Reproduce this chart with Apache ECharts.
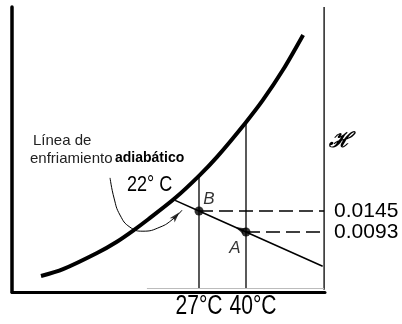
<!DOCTYPE html>
<html>
<head>
<meta charset="utf-8">
<script src="https://cdn.jsdelivr.net/npm/echarts@6/dist/echarts.min.js"></script>
<style>
  html, body { margin: 0; padding: 0; background: #fff; }
  #chart { width: 402px; height: 324px; }
</style>
</head>
<body>
<div id="chart"></div>
<script>
// saturation curve (dry bulb temperature, humidity)
const satTemp = [-16.7, -10.6, -1.2, 4.3, 8.7, 12.9, 20.4, 27, 32.0, 40, 44.7, 50.2, 55.8];
const satHum = [-0.0016, 0.0001, 0.0041, 0.0069, 0.0096, 0.0124, 0.0177, 0.0232, 0.0279, 0.0365, 0.0420, 0.0494, 0.0581];

// adiabatic cooling line
const coolTemp = [20.4, 27, 40, 61.2];
const coolHum = [0.01714, 0.0145, 0.0093, 0.00082];

// states A and B
const pointNames = ['B', 'A'];
const pointTemp = [27, 40];
const pointHum = [0.0145, 0.0093];
const humLabels = ['0.0145', '0.0093'];

// dry bulb verticals
const tempLabels = ['27°C', '40°C'];
const dryTemp = [27, 40];
const dryTop = [0.0232, 0.0365];

// frame
const baseHum = -0.0047;
const edgeTemp = 61.6;
const edgeTop = 0.065;
const baseStart = 12.6;

// leader from the note to the cooling line
const leaderTemp = [2.4, 3.5, 5.15, 7.9, 11.5, 16.2, 19.8, 22.3];
const leaderHum = [0.0227, 0.0177, 0.0135, 0.0105, 0.0095, 0.0105, 0.0125, 0.0147];

// arrow heads
const arrowTemp = [36.96, 21.6];
const arrowHum = [0.01052, 0.0142];

const X_MIN = -24.72, X_MAX = 61.85, Y_MIN = -0.00556, Y_MAX = 0.06502;
const FONT = "'Liberation Sans', Arial, sans-serif";

const chart = echarts.init(document.getElementById('chart'), null, { renderer: 'canvas' });

function seg(xs, ys) {
  return xs.map(function (x, i) { return [x, ys[i]]; });
}

function plainLine(data, width, extra) {
  return Object.assign({
    type: 'line',
    data: data,
    showSymbol: false,
    clip: false,
    silent: true,
    lineStyle: { color: '#000', width: width }
  }, extra || {});
}

const series = [];

// saturation curve
series.push(plainLine(seg(satTemp, satHum), 4, { smooth: 0.3 }));

// verticals
dryTemp.forEach(function (t, i) {
  series.push(plainLine([[t, baseHum], [t, dryTop[i]]], 1.3));
});

// right edge and faint base
series.push(plainLine([[edgeTemp, baseHum - 0.0003], [edgeTemp, edgeTop]], 1.3));
series.push(plainLine([[baseStart, baseHum], [edgeTemp, baseHum]], 1, {
  lineStyle: { color: '#bbb', width: 1 }
}));

// dashed humidity lines with their values
pointTemp.forEach(function (t, i) {
  series.push(plainLine([[t, pointHum[i]], [edgeTemp, pointHum[i]]], 1.3, {
    lineStyle: { color: '#000', width: 1.3, type: [14, 6] },
    endLabel: {
      show: true,
      formatter: humLabels[i],
      distance: 10,
      color: '#000',
      fontSize: 21,
      fontFamily: FONT
    }
  }));
});

// adiabatic cooling line
series.push(plainLine(seg(coolTemp, coolHum), 1.5));

// curved leader
series.push(plainLine(seg(leaderTemp, leaderHum), 1, { smooth: 0.5 }));

// arrow heads
const arrowRot = [66, -42];
series.push({
  type: 'scatter',
  silent: true,
  clip: false,
  symbol: 'arrow',
  symbolSize: [5, 11],
  itemStyle: { color: '#000' },
  data: seg(arrowTemp, arrowHum).map(function (p, i) {
    return { value: p, symbolRotate: arrowRot[i] };
  })
});

// points A and B
const nameOffsets = [[10, -12], [-11, 16]];
series.push({
  type: 'scatter',
  silent: true,
  clip: false,
  symbol: 'circle',
  symbolSize: 9,
  itemStyle: { color: '#000' },
  data: pointNames.map(function (n, i) {
    return {
      value: [pointTemp[i], pointHum[i]],
      name: n,
      label: {
        show: true,
        position: 'inside',
        offset: nameOffsets[i],
        formatter: n,
        color: '#000',
        fontSize: 17,
        fontStyle: 'italic',
        fontFamily: FONT
      }
    };
  })
});

const notes = [
  { type: 'text', left: 33, top: 133, style: { text: 'Línea de', fill: '#222', font: "15px " + FONT } },
  { type: 'text', left: 30, top: 151, style: { text: 'enfriamiento', fill: '#222', font: "15px " + FONT } },
  { type: 'text', left: 115, top: 151, style: { text: 'adiabático', fill: '#000', font: "bold 14px " + FONT } },
  { type: 'text', x: 127, y: 185, scaleX: 0.82, style: { text: '22° C', fill: '#000', font: "22px " + FONT, textVerticalAlign: 'middle' } },
  { type: 'text', left: 329, top: 131, style: { text: 'ℋ', fill: '#000', font: "italic bold 21px 'DejaVu Serif', serif" } }
];

const option = {
  backgroundColor: '#ffffff',
  animation: false,
  grid: { left: 12, right: 77, top: 7, bottom: 32 },
  xAxis: {
    type: 'value',
    min: X_MIN,
    max: X_MAX,
    axisLine: { show: true, onZero: false, lineStyle: { color: '#000', width: 3 } },
    axisTick: { show: false },
    axisLabel: { show: false },
    splitLine: { show: false }
  },
  yAxis: {
    type: 'value',
    min: Y_MIN,
    max: Y_MAX,
    axisLine: { show: true, onZero: false, lineStyle: { color: '#000', width: 3.5 } },
    axisTick: { show: false },
    axisLabel: { show: false },
    splitLine: { show: false }
  },
  graphic: notes,
  series: series
};

chart.setOption(option);

// temperature labels under the axis, placed from the axis scale
const tempShift = [0, 7];
const tempTexts = dryTemp.map(function (t, i) {
  const p = chart.convertToPixel({ gridIndex: 0 }, [t, Y_MIN]);
  return {
    type: 'text',
    x: p[0] + tempShift[i],
    y: p[1] + 15,
    scaleX: 0.78,
    style: {
      text: tempLabels[i],
      fill: '#000',
      font: "27px " + FONT,
      textAlign: 'center',
      textVerticalAlign: 'middle'
    }
  };
});
chart.setOption({ graphic: notes.concat(tempTexts) });
</script>
</body>
</html>
